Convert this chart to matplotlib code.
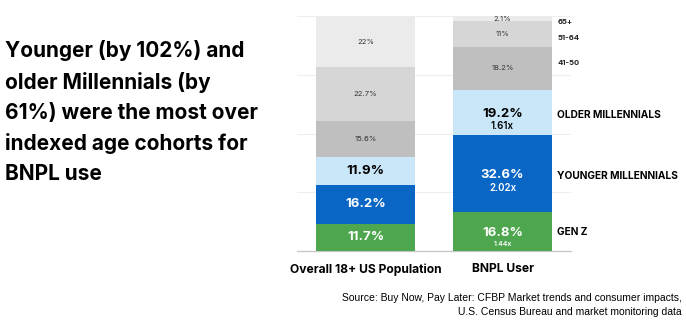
import numpy as np
import matplotlib
matplotlib.use('Agg')
import matplotlib.pyplot as plt

groups = ['Overall 18+ US Population', 'BNPL User']
cohorts = ['GEN Z', 'YOUNGER MILLENNIALS', 'OLDER MILLENNIALS', '41-50', '51-64', '65+']
overall = [11.7, 16.2, 11.9, 15.6, 22.7, 22.0]
bnpl = [16.8, 32.6, 19.2, 18.2, 11.0, 2.1]
overallLabels = ['11.7%', '16.2%', '11.9%', '15.6%', '22.7%', '22%']
bnplLabels = ['16.8%', '32.6%', '19.2%', '18.2%', '11%', '2.1%']
multipliers = ['1.44x', '2.02x', '1.61x', '', '', '']

colors = ['#4ea64e', '#0966c4', '#c9e7f8', '#bfbfbf', '#d6d6d6', '#ebebeb']
textColors = ['white', 'white', 'black', '#333333', '#333333', '#333333']
bigLabel = [True, True, True, False, False, False]
# nudges (in % units) for the right-hand cohort labels
labelShift = [-0.5, -1.2, -1.2, 2.3, -1.5, -1.5]
multShift = [-9, -11, -9.5, 0, 0, 0]

plt.rcParams['font.family'] = ['Inter', 'DejaVu Sans']

fig = plt.figure(figsize=(6.86, 3.22), dpi=100)
ax = fig.add_axes([297 / 686, 71 / 322, 274 / 686, 235 / 322])

xs = np.array([0, 1])
width = 0.72
data = np.array([overall, bnpl])
labels = [overallLabels, bnplLabels]
bottoms = np.zeros(2)
for i in range(len(cohorts)):
    ax.bar(xs, data[:, i], width, bottom=bottoms, color=colors[i], zorder=3)
    for j in range(2):
        yc = bottoms[j] + data[j, i] / 2
        if bigLabel[i]:
            off = -1 if j == 1 else 0
            ax.annotate(labels[j][i], (xs[j], yc), xytext=(0, off), textcoords='offset points',
                        ha='center', va='center', fontsize=9.5, fontweight='bold', color=textColors[i], zorder=4)
            if j == 1 and multipliers[i]:
                fs = 5 if i == 0 else 7
                ax.annotate(multipliers[i], (xs[j], yc), xytext=(0, multShift[i]), textcoords='offset points',
                            ha='center', va='center', fontsize=fs, fontweight='semibold', color=textColors[i], zorder=4)
        else:
            ax.text(xs[j], yc, labels[j][i], ha='center', va='center', fontsize=5.5,
                    color=textColors[i], zorder=4)
    # cohort label on the right, next to the BNPL bar
    yc = bottoms[1] + data[1, i] / 2 + labelShift[i]
    if bigLabel[i]:
        ax.text(1.4, yc, cohorts[i], ha='left', va='center', fontsize=7.3, fontweight='bold',
                color='black', clip_on=False)
    else:
        ax.text(1.4, yc, cohorts[i], ha='left', va='center', fontsize=5.5, fontweight='bold',
                color='#222222', clip_on=False)
    bottoms += data[:, i]

ax.set_xlim(-0.5, 1.5)
ax.set_ylim(0, 100)
ax.set_yticks([0, 25, 50, 75, 100])
ax.yaxis.grid(True, color='#eeeeee', linewidth=0.8, zorder=0)
ax.set_yticklabels([])
ax.tick_params(axis='both', length=0)
ax.set_xticks(xs)
ax.set_xticklabels(groups, fontsize=8.7, fontweight='bold')
ax.tick_params(axis='x', pad=9)
for s in ['top', 'right', 'left']:
    ax.spines[s].set_visible(False)
ax.spines['bottom'].set_color('#c8c8c8')
ax.spines['bottom'].set_linewidth(1)

fig.text(5 / 686, 1 - 112 / 322,
         'Younger (by 102%) and\nolder Millennials (by\n61%) were the most over\nindexed age cohorts for\nBNPL use',
         ha='left', va='center', fontsize=15, fontweight='bold', linespacing=1.62)

fig.text(682 / 686, 1 - 305 / 322,
         'Source: Buy Now, Pay Later: CFBP Market trends and consumer impacts,\nU.S. Census Bureau and market monitoring data',
         ha='right', va='center', fontsize=7.5, family=['Liberation Sans', 'DejaVu Sans'], linespacing=1.45)

fig.savefig('out.png', dpi=100)
